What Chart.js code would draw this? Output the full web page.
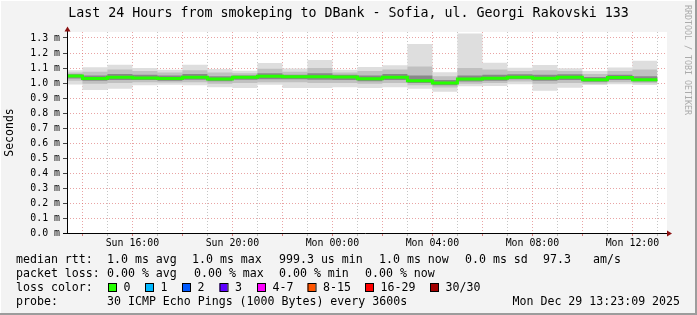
<!DOCTYPE html>
<html>
<head>
<meta charset="utf-8">
<script src="https://cdn.jsdelivr.net/npm/chart.js@4.4.1/dist/chart.umd.min.js"></script>
<style>
  html, body { margin: 0; padding: 0; background: #f3f3f3; }
  canvas { display: block; }
</style>
</head>
<body>
<canvas id="chart" width="697" height="315"></canvas>
<script>
// bucket start, hours since Sun 00:00 (one bucket per hour)
const hours = [13, 14, 15, 16, 17, 18, 19, 20, 21, 22, 23, 24, 25, 26, 27, 28, 29, 30, 31, 32, 33, 34, 35, 36];
const bucketEnd = 37;

// values in ms
const rttMax = [1.085, 1.105, 1.122, 1.100, 1.089, 1.122, 1.093, 1.082, 1.133, 1.096, 1.153, 1.089,
                1.107, 1.118, 1.260, 1.071, 1.330, 1.135, 1.102, 1.120, 1.098, 1.080, 1.104, 1.149];
const rttP80 = [1.070, 1.075, 1.090, 1.080, 1.070, 1.085, 1.070, 1.065, 1.095, 1.075, 1.100, 1.070,
                1.080, 1.090, 1.110, 1.045, 1.100, 1.090, 1.080, 1.085, 1.080, 1.060, 1.080, 1.090];
const rttP65 = [1.058, 1.050, 1.060, 1.055, 1.050, 1.060, 1.045, 1.050, 1.065, 1.055, 1.065, 1.055,
                1.050, 1.060, 1.050, 1.020, 1.050, 1.055, 1.058, 1.055, 1.058, 1.040, 1.055, 1.045];
const rttMedian = [1.046, 1.030, 1.038, 1.033, 1.030, 1.038, 1.027, 1.038, 1.045, 1.041, 1.042, 1.040,
                   1.029, 1.038, 1.015, 1.000, 1.026, 1.031, 1.039, 1.032, 1.039, 1.022, 1.037, 1.022];
const rttP35 = [1.030, 1.015, 1.020, 1.020, 1.015, 1.022, 1.012, 1.022, 1.025, 1.025, 1.022, 1.020,
                1.012, 1.020, 1.000, 0.985, 1.010, 1.015, 1.025, 1.015, 1.020, 1.008, 1.020, 1.010];
const rttP20 = [1.015, 0.995, 1.000, 1.005, 1.003, 1.005, 0.995, 1.000, 1.005, 1.005, 1.000, 1.000,
                0.995, 1.000, 0.985, 0.970, 0.995, 1.000, 1.010, 0.995, 1.000, 0.995, 1.005, 0.998];
const rttMin = [0.990, 0.953, 0.962, 0.985, 0.989, 0.985, 0.971, 0.967, 0.989, 0.967, 0.967, 0.971,
                0.967, 0.971, 0.962, 0.942, 0.978, 0.980, 0.991, 0.949, 0.969, 0.987, 0.991, 0.987];

const xMin = 13 + 23 / 60;
const xMax = 37 + 23 / 60;
const yTicks = [0, 0.1, 0.2, 0.3, 0.4, 0.5, 0.6, 0.7, 0.8, 0.9, 1.0, 1.1, 1.2, 1.3];
const xLabelHours = [16, 20, 24, 28, 32, 36];

const lossColors = ['#26ff00', '#00b8ff', '#0059ff', '#5e00ff', '#ff00ff', '#ff5500', '#ff0000', '#a10000'];
const lossLabels = ['0', '1', '2', '3', '4-7', '8-15', '16-29', '30/30'];

const MONO = "'DejaVu Sans Mono', monospace";

const pts = arr => hours.map((h, i) => ({ x: h, y: arr[i] }))
  .concat([{ x: bucketEnd, y: arr[arr.length - 1] }]);

const band = (arr, fill, bg, order) => ({
  data: pts(arr), stepped: true, borderWidth: 0, pointRadius: 0,
  fill: fill, backgroundColor: bg, order: order, clip: 0
});

const datasets = [
  band(rttMax, 1, '#dedede', 3),
  band(rttMin, false, 'transparent', 3),
  band(rttP80, 3, '#c0c0c0', 2),
  band(rttP20, false, 'transparent', 2),
  band(rttP65, 5, '#888888', 1),
  band(rttP35, false, 'transparent', 1),
  {
    data: pts(rttMedian), stepped: true, borderWidth: 3, borderColor: lossColors[0],
    pointRadius: 0, fill: false, order: 0, clip: 0
  }
];

const redGrid = 'rgba(215, 90, 90, 0.55)';
const grayGrid = 'rgba(150, 150, 150, 0.55)';

const decor = {
  id: 'decor',
  beforeDraw(chart) {
    const { ctx, chartArea: a, width, height } = chart;
    ctx.save();
    ctx.fillStyle = '#f3f3f3';
    ctx.fillRect(0, 0, width, height);
    ctx.fillStyle = '#ffffff';
    ctx.fillRect(a.left, a.top, a.right - a.left, a.bottom - a.top);
    ctx.restore();
  },
  afterDraw(chart) {
    const { ctx, chartArea: a, width, height } = chart;
    ctx.save();

    // axes
    ctx.strokeStyle = '#000';
    ctx.lineWidth = 1;
    ctx.beginPath();
    ctx.moveTo(a.left + 0.5, a.bottom);
    ctx.lineTo(a.left + 0.5, 30);
    ctx.moveTo(a.left - 4, a.bottom + 0.5);
    ctx.lineTo(a.right + 1, a.bottom + 0.5);
    ctx.stroke();
    ctx.fillStyle = '#8b1010';
    ctx.beginPath();
    ctx.moveTo(a.left + 0.5, 26.5);
    ctx.lineTo(a.left + 3.5, 31.5);
    ctx.lineTo(a.left - 2.5, 31.5);
    ctx.closePath();
    ctx.fill();
    ctx.beginPath();
    ctx.moveTo(a.right + 5, a.bottom + 0.5);
    ctx.lineTo(a.right, a.bottom - 2.5);
    ctx.lineTo(a.right, a.bottom + 3.5);
    ctx.closePath();
    ctx.fill();

    // title
    ctx.fillStyle = '#000';
    ctx.textBaseline = 'middle';
    ctx.textAlign = 'center';
    ctx.font = '13.3px ' + MONO;
    ctx.fillText('Last 24 Hours from smokeping to DBank - Sofia, ul. Georgi Rakovski 133', 348.5, 14);

    // legend
    ctx.textAlign = 'left';
    ctx.font = '11.6px ' + MONO;
    const put = (items, y) => items.forEach(([t, x]) => ctx.fillText(t, x, y));
    put([['median rtt:', 16], ['1.0 ms avg', 107], ['1.0 ms max', 192], ['999.3 us min', 279],
         ['1.0 ms now', 379], ['0.0 ms sd', 465], ['97.3', 543], ['am/s', 593]], 259.5);
    put([['packet loss:', 16], ['0.00 % avg', 107], ['0.00 % max', 194], ['0.00 % min', 279],
         ['0.00 % now', 365]], 273.5);
    put([['loss color:', 16]], 287.5);
    const swatchX = [108, 145, 182, 219.5, 257, 307.5, 365, 430];
    lossLabels.forEach((lab, i) => {
      ctx.fillStyle = lossColors[i];
      ctx.fillRect(swatchX[i], 283.5, 8, 8);
      ctx.strokeStyle = '#000';
      ctx.strokeRect(swatchX[i] + 0.5, 283.5, 8, 8);
      ctx.fillStyle = '#000';
      ctx.fillText(lab, swatchX[i] + 15.5, 287.5);
    });
    put([['probe:', 16], ['30 ICMP Echo Pings (1000 Bytes) every 3600s', 107],
         ['Mon Dec 29 13:23:09 2025', 512.5]], 301.5);

    // watermark
    ctx.save();
    ctx.translate(687.5, 5);
    ctx.rotate(Math.PI / 2);
    ctx.fillStyle = '#ababab';
    ctx.font = '8.3px ' + MONO;
    ctx.textBaseline = 'middle';
    ctx.fillText('RRDTOOL / TOBI OETIKER', 0, 0);
    ctx.restore();

    // frame shading
    ctx.fillStyle = '#9c9c9c';
    ctx.fillRect(width - 2, 0, 2, height);
    ctx.fillRect(0, height - 2, width, 2);
    ctx.fillStyle = '#ffffff';
    ctx.fillRect(0, 0, width - 2, 1);
    ctx.fillRect(0, 0, 1, height - 2);
    ctx.restore();
  }
};

new Chart(document.getElementById('chart'), {
  type: 'line',
  data: { datasets: datasets },
  plugins: [decor],
  options: {
    responsive: false,
    animation: false,
    events: [],
    layout: { padding: { top: 32, right: 30, left: 0, bottom: 0 } },
    plugins: { legend: { display: false }, tooltip: { enabled: false }, title: { display: false } },
    scales: {
      x: {
        type: 'linear', min: xMin, max: xMax, z: 1,
        afterFit: s => { s.height = 82; },
        afterBuildTicks: s => {
          const t = [];
          for (let h = 14; h <= 37; h++) t.push({ value: h });
          s.ticks = t;
        },
        grid: {
          color: c => (c.tick && c.tick.value % 2 === 0 ? redGrid : grayGrid),
          tickColor: c => (c.tick && c.tick.value % 2 === 0 ? 'rgba(215,90,90,0.8)' : 'rgba(150,150,150,0.6)'),
          tickLength: 3, lineWidth: 1
        },
        border: { display: false, dash: [1, 2] },
        ticks: {
          autoSkip: false, maxRotation: 0, padding: 1, color: '#000',
          font: { family: MONO, size: 9.9 },
          callback: v => {
            if (!xLabelHours.includes(v)) return '';
            const day = v < 24 ? 'Sun' : 'Mon';
            return day + ' ' + String(v % 24).padStart(2, '0') + ':00';
          }
        }
      },
      y: {
        min: 0, max: 1.34, z: 1,
        afterFit: s => { s.width = 67; },
        afterBuildTicks: s => { s.ticks = yTicks.map(v => ({ value: v })); },
        grid: { color: redGrid, tickColor: '#444', tickLength: 4 },
        border: { display: false, dash: [1, 2] },
        title: {
          display: true, text: 'Seconds', color: '#000',
          font: { family: MONO, size: 11.5 }, padding: { top: 3, bottom: 0 }
        },
        ticks: {
          padding: 3, color: '#000', font: { family: MONO, size: 9.9 },
          callback: v => v.toFixed(1) + ' m'
        }
      }
    }
  }
});
</script>
</body>
</html>
